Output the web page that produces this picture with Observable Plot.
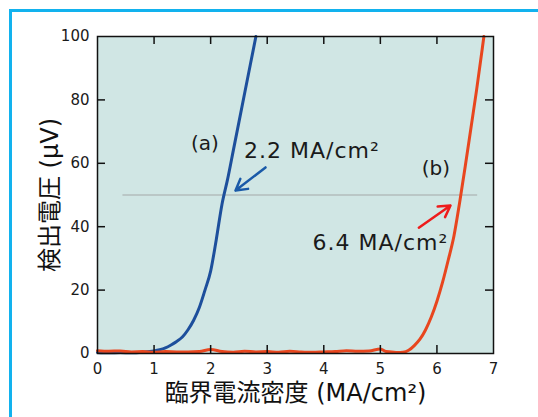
<!DOCTYPE html>
<html>
<head>
<meta charset="utf-8">
<script src="https://cdn.jsdelivr.net/npm/d3@7"></script>
<script src="https://cdn.jsdelivr.net/npm/@observablehq/plot@0.6"></script>
<style>
  html, body { margin: 0; padding: 0; background: #fff; overflow: hidden; }
  #wrap { position: relative; width: 538px; height: 417px; }
  #border { position: absolute; left: 9px; top: 9px; width: 600px; height: 500px; border: 3px solid #12b2ee; box-sizing: border-box; }
  #chart { position: absolute; left: 0; top: 0; }
  .ann text { letter-spacing: 1px; }
</style>
</head>
<body>
<div id="wrap"><div id="border"></div><div id="chart"></div></div>
<script>
// Sample (a)
const blueX = [0, 0.2, 0.4, 0.6, 0.8, 1.0, 1.1, 1.2, 1.3, 1.4, 1.5, 1.6, 1.7, 1.8, 1.9, 2.0, 2.1, 2.2, 2.3, 2.4, 2.5, 2.6, 2.7, 2.8];
const blueY = [0.3, 0.2, 0.3, 0.2, 0.4, 0.8, 1.2, 1.8, 2.7, 3.8, 5.2, 7.5, 10.5, 14.5, 20, 26, 36, 47, 55, 64, 73, 82, 91, 100];
// Sample (b)
const redX = [0, 0.2, 0.4, 0.6, 0.8, 1.0, 1.2, 1.4, 1.6, 1.8, 2.0, 2.2, 2.4, 2.6, 2.8, 3.0, 3.2, 3.4, 3.6, 3.8, 4.0, 4.2, 4.4, 4.6, 4.8, 5.0, 5.1, 5.2, 5.3, 5.4, 5.5, 5.6, 5.7, 5.8, 5.9, 6.0, 6.1, 6.2, 6.3, 6.4, 6.5, 6.6, 6.7, 6.8, 6.83];
const redY = [0.9, 0.7, 0.8, 0.5, 0.6, 0.4, 0.6, 0.5, 0.5, 0.6, 1.3, 0.6, 0.4, 0.7, 0.5, 0.6, 0.4, 0.7, 0.5, 0.4, 0.5, 0.6, 0.9, 0.7, 0.8, 1.4, 0.6, 0.5, 0.3, 0.4, 1.0, 2.5, 4.5, 7.5, 11.5, 16.5, 22.5, 29.5, 37, 47.5, 59, 71, 83, 96, 100];

const xTicks = [0, 1, 2, 3, 4, 5, 6, 7];
const yTicks = [0, 20, 40, 60, 80, 100];
const xInner = [1, 2, 3, 4, 5, 6];
const yInner = [20, 40, 60, 80];

const xLabel = "臨界電流密度 (MA/cm²)";
const yLabel = "検出電圧 (μV)";
const threshold = 50;
const thresholdSpan = [0.45, 6.72];

const labels = [
  {x: 1.90, y: 66.2, text: "(a)"},
  {x: 2.59, y: 64.0, text: "2.2 MA/cm²"},
  {x: 5.98, y: 58.4, text: "(b)"},
  {x: 3.80, y: 35.0, text: "6.4 MA/cm²"}
];
const arrowsA = [{x1: 2.97, y1: 58.7, x2: 2.44, y2: 51.4}];
const arrowsB = [{x1: 5.68, y1: 39.7, x2: 6.24, y2: 46.7}];

const blue = blueX.map((x, i) => ({x, y: blueY[i]}));
const red = redX.map((x, i) => ({x, y: redY[i]}));

const W = 538, H = 417, mL = 97, mR = 45, mT = 36, mB = 64;
const plotH = H - mT - mB, plotW = W - mL - mR;
const font = "'DejaVu Sans', 'Noto Sans CJK JP', sans-serif";

const chart = Plot.plot({
  width: W, height: H,
  marginLeft: mL, marginRight: mR, marginTop: mT, marginBottom: mB,
  x: {domain: [0, 7]},
  y: {domain: [0, 100]},
  style: {fontFamily: font, fontSize: "15px", color: "#1a1a1a", background: "transparent"},
  marks: [
    Plot.frame({fill: "#d0e6e4"}),
    Plot.ruleY([threshold], {x1: thresholdSpan[0], x2: thresholdSpan[1], stroke: "#a4a8a8", strokeWidth: 1.2}),
    Plot.line(blue, {x: "x", y: "y", stroke: "#1d4f9c", strokeWidth: 3, curve: "monotone-x"}),
    Plot.line(red, {x: "x", y: "y", stroke: "#e8461e", strokeWidth: 3, curve: "monotone-x"}),
    Plot.frame({stroke: "#111", strokeWidth: 1.5}),
    Plot.tickX(xInner, {x: d => d, insetTop: plotH - 8, stroke: "#111", strokeWidth: 1.5}),
    Plot.tickX(xInner, {x: d => d, insetBottom: plotH - 8, stroke: "#111", strokeWidth: 1.5}),
    Plot.tickY(yInner, {y: d => d, insetRight: plotW - 8, stroke: "#111", strokeWidth: 1.5}),
    Plot.tickY(yInner, {y: d => d, insetLeft: plotW - 8, stroke: "#111", strokeWidth: 1.5}),
    Plot.axisX({ticks: xTicks, tickFormat: d3.format("d"), tickSize: 0, tickPadding: 10, label: null, fontSize: 15}),
    Plot.axisY({ticks: yTicks, tickFormat: d3.format("d"), tickSize: 0, tickPadding: 8, label: null, fontSize: 15}),
    Plot.text([xLabel], {frameAnchor: "bottom", lineAnchor: "middle", textAnchor: "middle", dy: 40, fontSize: 24, fill: "#111"}),
    Plot.text([yLabel], {frameAnchor: "left", lineAnchor: "middle", textAnchor: "middle", dx: -47, rotate: -90, fontSize: 24, fill: "#111"}),
    Plot.text(labels.filter(d => d.text.startsWith("(")), {x: "x", y: "y", text: "text", fontSize: 20, fill: "#1a1a1a"}),
    Plot.text(labels.filter(d => !d.text.startsWith("(")), {x: "x", y: "y", text: "text", textAnchor: "start", fontSize: 22, fill: "#1a1a1a", className: "ann"}),
    Plot.arrow(arrowsA, {x1: "x1", y1: "y1", x2: "x2", y2: "y2", stroke: "#1a5aa8", strokeWidth: 2.5, headLength: 10}),
    Plot.arrow(arrowsB, {x1: "x1", y1: "y1", x2: "x2", y2: "y2", stroke: "#ee1c1c", strokeWidth: 2.5, headLength: 10})
  ]
});
document.getElementById("chart").appendChild(chart);
</script>
</body>
</html>
